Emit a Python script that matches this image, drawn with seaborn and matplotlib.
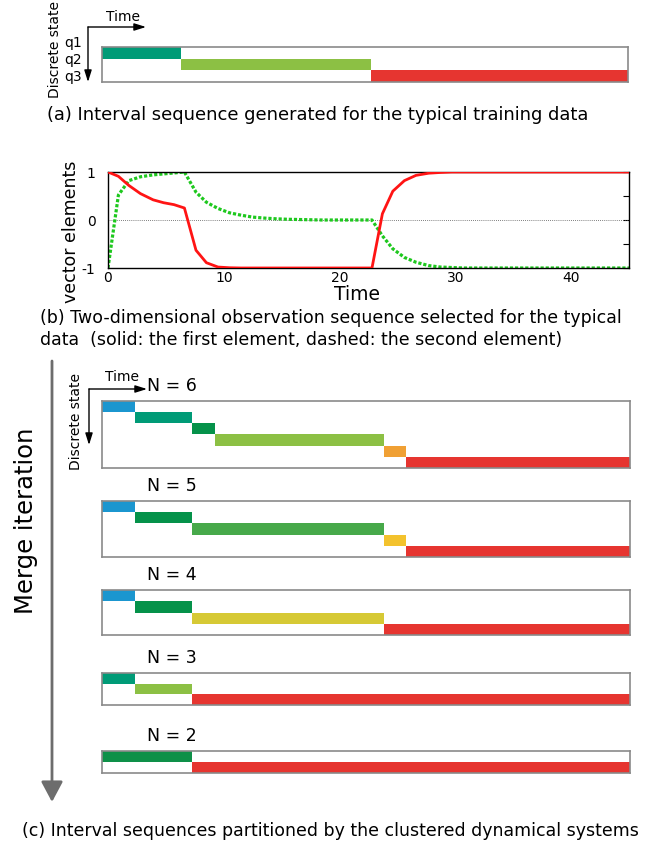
import matplotlib
matplotlib.use("Agg")
import matplotlib.pyplot as plt
from matplotlib.patches import FancyArrowPatch
import seaborn as sns
import pandas as pd

sns.set_theme(style="white")
plt.rcParams['font.family'] = ['DejaVu Sans']
plt.rcParams['text.color'] = 'black'
plt.rcParams['axes.labelcolor'] = 'black'
plt.rcParams['xtick.color'] = 'black'
plt.rcParams['ytick.color'] = 'black'

# ---------------- data ----------------
T_END = 45

# (a) interval sequence of the typical training data
a_states = ["q1", "q2", "q3"]
a_bounds = [0, 6.75, 23.0, 45]
a_colors = ["#009b77", "#8cc044", "#e63530"]

# (b) observation sequence
time_b = [0, 0.9, 1.8, 2.8, 3.9, 4.8, 5.7, 6.6, 7.6, 8.5, 9.5, 10.5, 11.5, 12.5,
          13.5, 14.5, 15.5, 16.5, 17.5, 18.5, 19.5, 20.5, 21.5, 22.8, 23.7, 24.6,
          25.6, 26.6, 27.7, 28.7, 29.7, 30.7, 35, 40, 45]
first_elem = [1.0, 0.91, 0.72, 0.55, 0.42, 0.36, 0.32, 0.25, -0.63, -0.89, -0.98,
              -0.995, -1, -1, -1, -1, -1, -1, -1, -1, -1, -1, -1, -1, 0.13, 0.6,
              0.82, 0.93, 0.975, 0.99, 1.0, 1.0, 1.0, 1.0, 1.0]
second_elem = [-1.0, 0.52, 0.82, 0.9, 0.94, 0.96, 0.98, 1.0, 0.58, 0.37, 0.24,
               0.15, 0.1, 0.06, 0.04, 0.025, 0.015, 0.01, 0.005, 0, 0, 0, 0, 0,
               -0.33, -0.6, -0.78, -0.88, -0.95, -0.98, -0.99, -1, -1, -1, -1]
b_xticks = [0, 10, 20, 30, 40]
b_yticks = [-1, -0.5, 0, 0.5, 1]
b_yticklabels = ["-1", "", "0", "", "1"]

# (c) merged interval sequences
n_values = [6, 5, 4, 3, 2]
bounds_n6 = [0, 2.85, 7.67, 9.6, 24.0, 25.9, 45]
bounds_n5 = [0, 2.85, 7.67, 24.0, 25.9, 45]
bounds_n4 = [0, 2.85, 7.67, 24.0, 45]
bounds_n3 = [0, 2.85, 7.67, 45]
bounds_n2 = [0, 7.67, 45]
colors_n6 = ["#1b96cf", "#009b77", "#05924a", "#8cc044", "#f0a034", "#e63530"]
colors_n5 = ["#1b96cf", "#05924a", "#47a94a", "#f3c22d", "#e63530"]
colors_n4 = ["#1b96cf", "#05924a", "#d6c935", "#e63530"]
colors_n3 = ["#009b77", "#8cc044", "#e63530"]
colors_n2 = ["#0e9048", "#e63530"]

captions = ["(a) Interval sequence generated for the typical training data",
            "(b) Two-dimensional observation sequence selected for the typical",
            "data  (solid: the first element, dashed: the second element)",
            "(c) Interval sequences partitioned by the clustered dynamical systems"]

# ---------------- figure ----------------
W, H = 645, 850
fig = plt.figure(figsize=(W / 100, H / 100), dpi=100)


def ax_px(x0, y0, x1, y1):
    return fig.add_axes([x0 / W, 1 - y1 / H, (x1 - x0) / W, (y1 - y0) / H])


def ftext(x, y, s, **kw):
    fig.text(x / W, 1 - y / H, s, **kw)


def farrow(x0, y0, x1, y1, lw=1.0, color="black",
           style="-|>,head_length=0.7,head_width=0.22", ms=10):
    fig.add_artist(FancyArrowPatch((x0 / W, 1 - y0 / H), (x1 / W, 1 - y1 / H),
                                   transform=fig.transFigure, arrowstyle=style,
                                   mutation_scale=ms, lw=lw, color=color,
                                   shrinkA=0, shrinkB=0))


def interval_axes(ax, bounds, colors):
    n = len(colors)
    starts = bounds[:-1]
    widths = [b - a for a, b in zip(bounds[:-1], bounds[1:])]
    ax.barh(y=list(range(n)), width=widths, left=starts, height=1.0,
            color=colors, edgecolor="none", linewidth=0)
    ax.set_xlim(0, T_END)
    ax.set_ylim(n - 0.5, -0.5)
    ax.set_xticks([])
    ax.set_yticks([])
    for sp in ax.spines.values():
        sp.set_color("#8a8a8a")
        sp.set_linewidth(1.2)
        sp.set_visible(True)
    ax.set_facecolor("white")


# ----- (a) -----
ax_a = ax_px(102, 47, 628, 82)
interval_axes(ax_a, a_bounds, a_colors)
farrow(88, 27, 88, 82)
farrow(88, 27, 146, 27)
ftext(123, 17, "Time", fontsize=10, ha="center", va="center")
ftext(55, 50, "Discrete state", fontsize=10, rotation=90, ha="center", va="center")
for i, q in enumerate(a_states):
    ftext(73, 43 + 17 * i, q, fontsize=10, ha="center", va="center")
ftext(47, 115, captions[0], fontsize=12.9, ha="left", va="center")

# ----- (b) -----
ax_b = ax_px(108, 172, 629, 268)
df_b = pd.DataFrame({"Time": time_b, "first": first_elem, "second": second_elem})
ax_b.axhline(0, color="#555555", lw=0.6, ls=(0, (1, 1.5)), zorder=1)
sns.lineplot(data=df_b, x="Time", y="second", ax=ax_b, color="#1ec81e", lw=2.3,
             linestyle=(0, (1, 0.6)), zorder=2)
sns.lineplot(data=df_b, x="Time", y="first", ax=ax_b, color="#ff1414", lw=2.0,
             zorder=3)
ax_b.set_xlim(0, T_END)
ax_b.set_ylim(-1, 1)
ax_b.set_xticks(b_xticks)
ax_b.set_yticks(b_yticks)
ax_b.set_yticklabels(b_yticklabels)
ax_b.tick_params(axis="both", direction="in", length=4, width=0.8, right=True,
                 top=False, labelsize=10, colors="black")
ax_b.tick_params(axis="x", pad=2)
ax_b.tick_params(axis="y", pad=9)
for sp in ax_b.spines.values():
    sp.set_color("black")
    sp.set_linewidth(1.0)
    sp.set_visible(True)
ax_b.set_xlabel("Time", fontsize=13.5)
ax_b.set_ylabel("vector elements", fontsize=12.5)
ax_b.xaxis.set_label_coords((357 - 108) / (629 - 108), -(294 - 268) / (268 - 172))
ax_b.yaxis.set_label_coords(-(108 - 71) / (629 - 108), 0.5 - (232 - 220) / (268 - 172))
ax_b.xaxis.label.set_va("center")
ax_b.yaxis.label.set_va("center")
ftext(40, 318, captions[1], fontsize=12.5, ha="left", va="center")
ftext(40, 340, captions[2], fontsize=12.5, ha="left", va="center")

# ----- (c) -----
ftext(26, 521, "Merge iteration", fontsize=17.5, rotation=90, ha="center", va="center")
farrow(52, 361, 52, 802, lw=2.0, color="#6d6d6d",
       style="-|>,head_length=0.62,head_width=0.33", ms=20)
farrow(89, 389, 89, 445)
farrow(89, 389, 147, 389)
ftext(122, 377, "Time", fontsize=10, ha="center", va="center")
ftext(76, 422, "Discrete state", fontsize=10, rotation=90, ha="center", va="center")

c_boxes = [(401, 468), (501, 557), (590, 635), (673, 705), (751, 773)]
c_bounds = [bounds_n6, bounds_n5, bounds_n4, bounds_n3, bounds_n2]
c_colors = [colors_n6, colors_n5, colors_n4, colors_n3, colors_n2]
for n, (y0, y1), bnd, col in zip(n_values, c_boxes, c_bounds, c_colors):
    ax = ax_px(102, y0, 630, y1)
    interval_axes(ax, bnd, col)
    ftext(172, y0 - 15, f"N = {n}", fontsize=12.5, ha="center", va="center")

ftext(22, 831, captions[3], fontsize=12.5, ha="left", va="center")

fig.savefig("out.png", dpi=100)
